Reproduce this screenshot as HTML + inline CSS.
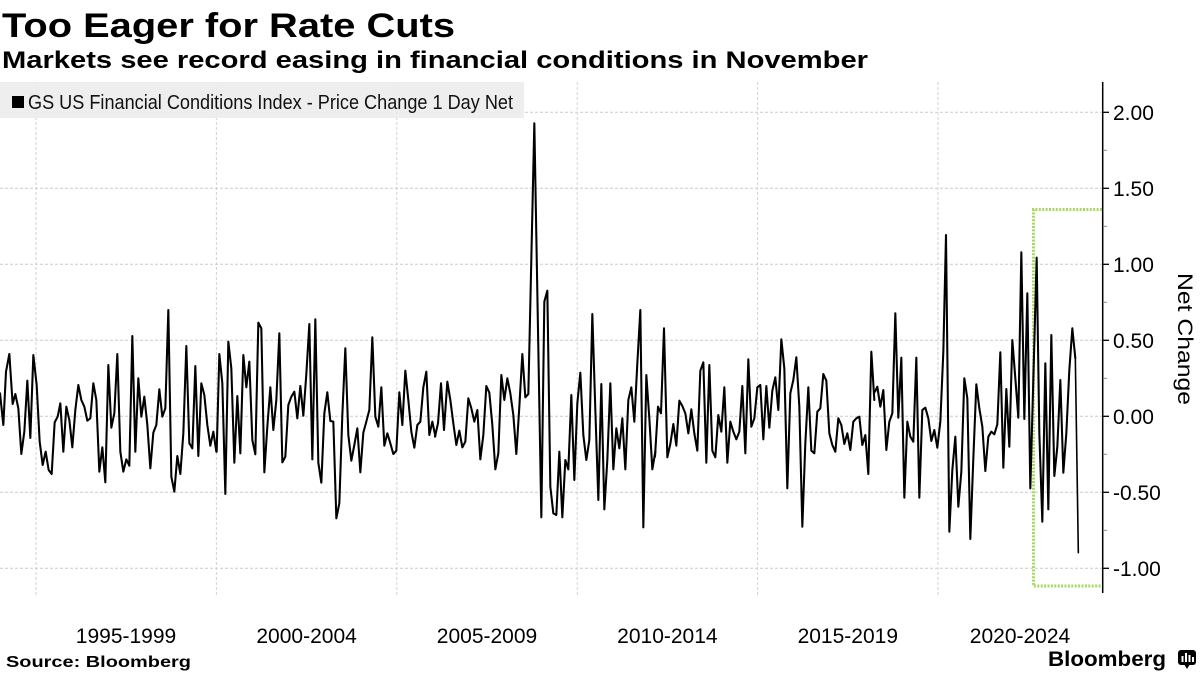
<!DOCTYPE html>
<html>
<head>
<meta charset="utf-8">
<style>
  html,body{margin:0;padding:0;background:#fff;}
  svg{display:block;font-family:"Liberation Sans",sans-serif;}
</style>
</head>
<body>
<svg width="1200" height="675" viewBox="0 0 1200 675" xmlns="http://www.w3.org/2000/svg">
  <rect x="0" y="0" width="1200" height="675" fill="#fff"/>

  <!-- Titles -->
  <text x="2" y="37" font-size="34" font-weight="bold" fill="#000" textLength="453" lengthAdjust="spacingAndGlyphs">Too Eager for Rate Cuts</text>
  <text x="2" y="68" font-size="24.5" font-weight="bold" fill="#000" textLength="866" lengthAdjust="spacingAndGlyphs">Markets see record easing in financial conditions in November</text>

  <!-- Horizontal gridlines -->
  <g stroke="#cccccc" stroke-width="1" stroke-dasharray="3 2">
    <line x1="0" y1="112.3" x2="1102" y2="112.3"/>
    <line x1="0" y1="188.3" x2="1102" y2="188.3"/>
    <line x1="0" y1="264.3" x2="1102" y2="264.3"/>
    <line x1="0" y1="340.3" x2="1102" y2="340.3"/>
    <line x1="0" y1="416.3" x2="1102" y2="416.3"/>
    <line x1="0" y1="492.3" x2="1102" y2="492.3"/>
    <line x1="0" y1="568.3" x2="1102" y2="568.3"/>
  </g>
  <!-- Vertical gridlines -->
  <g stroke="#d2d2d2" stroke-width="1" stroke-dasharray="3 2">
    <line x1="36" y1="82" x2="36" y2="597"/>
    <line x1="216.4" y1="82" x2="216.4" y2="597"/>
    <line x1="396.8" y1="82" x2="396.8" y2="597"/>
    <line x1="577.2" y1="82" x2="577.2" y2="597"/>
    <line x1="757.6" y1="82" x2="757.6" y2="597"/>
    <line x1="938" y1="82" x2="938" y2="597"/>
  </g>

  <!-- Legend -->
  <rect x="0" y="82" width="524" height="36" fill="#ededed" opacity="0.92"/>
  <rect x="12" y="96" width="12" height="12" fill="#000"/>
  <text x="28" y="109" font-size="20" fill="#111" textLength="485" lengthAdjust="spacingAndGlyphs">GS US Financial Conditions Index - Price Change 1 Day Net</text>

  <!-- Green highlight box -->
  <path d="M1102,209.5 H1033.5 V586 H1102" fill="none" stroke="#a8d862" stroke-width="3" stroke-dasharray="2 1.4"/>

  <!-- Series -->
  <g fill="none" stroke="#000" stroke-width="6.2" stroke-linejoin="round" stroke-linecap="round">
    <polyline transform="translate(0,300) scale(0.33333)" points="0,280 10,375 18,215 28,162 38,312 46,282 55,325 64,462 73,395 82,242 91,414 100,165 110,255 119,425 128,495 137,455 146,510 155,522 164,367 173,350 181,310 190,455 199,320 208,360 217,442 226,330 235,255 244,300 253,320 262,362 271,355 280,250 289,300 298,515 307,442 316,547 325,195 334,383 343,340 352,162 361,455 370,515 379,478 388,497 397,108 406,455 415,235 424,350 433,290 442,375 451,505 460,398 469,375 478,268 487,350 496,325 505,30 514,530 523,575 532,468 541,522 550,400 559,138 568,430 577,445 586,198 595,468 604,250 613,285 622,375 631,437 640,395 649,455"/>
    <polyline transform="translate(215,300) scale(0.33333)" points="5,455 13,162 22,250 31,582 40,125 49,205 58,488 67,288 76,460 85,165 94,262 103,185 112,420 121,463 130,68 139,85 148,517 157,380 166,262 175,390 184,300 193,100 202,487 211,470 220,315 229,290 238,275 247,355 256,258 265,347 274,222 283,72 292,478 301,58 310,488 319,548 328,340 337,277 346,363 355,365 364,655 373,610 382,345 391,145 400,405 409,482 418,435 427,385 436,517 445,398 454,365 463,330 472,112 481,350 490,380 499,262 508,437 517,400 526,430 535,462 544,452 553,277 562,375 571,212 580,300 589,395 598,443 607,375 616,365 625,262 634,215 643,405 652,365 661,408"/>
    <polyline transform="translate(435,110) scale(0.33333)" points="0,980 9,940 18,820 27,960 37,815 46,870 55,940 64,1005 73,962 82,1012 91,995 100,865 109,895 118,935 127,900 136,1048 145,975 154,828 163,848 172,945 181,1078 190,1030 199,795 208,870 217,805 226,850 235,915 244,1032 253,890 262,732 271,862 280,852 298,40 319,1222 328,575 337,542 346,1130 355,1210 364,1215 373,1025 382,1222 391,1050 400,1078 409,855 418,1110 427,880 436,788 445,975 454,1050 463,990 472,612 481,900 490,1170 499,822 508,1198 517,1050 526,820 535,1078 544,955 553,1015 562,925 571,1078 580,870 589,832 598,935 607,760 616,600 625,1252 634,795 643,925 652,1078 661,1025"/>
    <polyline transform="translate(655,300) scale(0.33333)" points="0,470 9,320 18,340 27,85 37,472 46,432 55,372 64,437 73,302 82,318 91,340 100,400 109,328 118,400 127,452 136,212 145,187 154,488 163,195 172,452 181,472 190,345 199,395 208,262 217,488 226,365 235,395 244,418 253,395 262,258 271,460 280,178 289,380 298,355 307,262 316,255 325,418 334,258 343,383 352,272 361,232 370,330 379,118 388,205 397,565 406,280 415,240 424,172 433,320 442,680 451,430 460,262 469,452 478,460 487,335 496,325 505,222 514,242 523,400 532,435 541,455 550,355 559,375 568,432 577,400 586,450 595,365 604,355 613,350 622,435 631,405 640,522 649,155 658,300"/>
    <polyline transform="translate(875,225) scale(0.33333)" points="0,500 7,485 16,545 25,495 34,675 43,590 52,565 61,265 70,578 79,398 88,818 97,590 106,635 115,650 124,398 133,818 142,555 151,548 160,580 169,648 178,615 187,668 196,590 205,380 213,30 223,920 232,735 241,635 250,845 259,740 268,460 277,520 286,942 295,700 304,478 313,550 322,605 331,738 340,635 349,620 358,628 367,598 376,382 385,728 394,492 403,665 412,345 421,460 430,578 439,82 448,582 457,205 466,790 485,98 493,625 502,890 511,415 520,853 529,330 538,753 547,665 556,465 565,743 574,625 583,435 592,310 601,400"/>
    <polyline transform="translate(875,225) scale(0.33333)" stroke-width="4.8" points="601,400 610,983"/>
  </g>

  <!-- Right axis -->
  <line x1="1102.7" y1="82" x2="1102.7" y2="593" stroke="#000" stroke-width="1.5"/>
  <g stroke="#000" stroke-width="1.3">
    <line x1="1103" y1="112.3" x2="1109" y2="112.3"/>
    <line x1="1103" y1="188.3" x2="1109" y2="188.3"/>
    <line x1="1103" y1="264.3" x2="1109" y2="264.3"/>
    <line x1="1103" y1="340.3" x2="1109" y2="340.3"/>
    <line x1="1103" y1="416.3" x2="1109" y2="416.3"/>
    <line x1="1103" y1="492.3" x2="1109" y2="492.3"/>
    <line x1="1103" y1="568.3" x2="1109" y2="568.3"/>
  </g>
  <g stroke="#888" stroke-width="1">
    <line x1="1103" y1="150.3" x2="1107" y2="150.3"/>
    <line x1="1103" y1="226.3" x2="1107" y2="226.3"/>
    <line x1="1103" y1="302.3" x2="1107" y2="302.3"/>
    <line x1="1103" y1="378.3" x2="1107" y2="378.3"/>
    <line x1="1103" y1="454.3" x2="1107" y2="454.3"/>
    <line x1="1103" y1="530.3" x2="1107" y2="530.3"/>
  </g>
  <g font-size="21" fill="#000">
    <text x="1113" y="119.8">2.00</text>
    <text x="1113" y="195.8">1.50</text>
    <text x="1113" y="271.8">1.00</text>
    <text x="1113" y="347.8">0.50</text>
    <text x="1113" y="423.8">0.00</text>
    <text x="1113" y="499.8">-0.50</text>
    <text x="1113" y="575.8">-1.00</text>
  </g>
  <text transform="translate(1178,339) rotate(90)" x="0" y="0" font-size="21" fill="#000" text-anchor="middle" textLength="132" lengthAdjust="spacingAndGlyphs">Net Change</text>

  <!-- X labels -->
  <g font-size="21" fill="#000" text-anchor="middle">
    <text x="126" y="643">1995-1999</text>
    <text x="306.6" y="643">2000-2004</text>
    <text x="487" y="643">2005-2009</text>
    <text x="667.4" y="643">2010-2014</text>
    <text x="847.8" y="643">2015-2019</text>
    <text x="1020" y="643">2020-2024</text>
  </g>

  <!-- Footer -->
  <text x="6" y="667" font-size="16" font-weight="bold" fill="#000" textLength="185" lengthAdjust="spacingAndGlyphs">Source: Bloomberg</text>
  <text x="1048" y="666" font-size="21" font-weight="bold" fill="#000" textLength="118" lengthAdjust="spacingAndGlyphs">Bloomberg</text>
  <g>
    <rect x="1178" y="650" width="18" height="15" rx="3" fill="#000"/>
    <path d="M1184,664 L1187,669 L1190,664 Z" fill="#000"/>
    <rect x="1181.5" y="656" width="2" height="6" fill="#fff"/>
    <rect x="1185" y="653" width="2" height="9" fill="#fff"/>
    <rect x="1188.5" y="655" width="2" height="7" fill="#fff"/>
    <rect x="1192" y="657" width="2" height="5" fill="#fff"/>
  </g>
</svg>
</body>
</html>
